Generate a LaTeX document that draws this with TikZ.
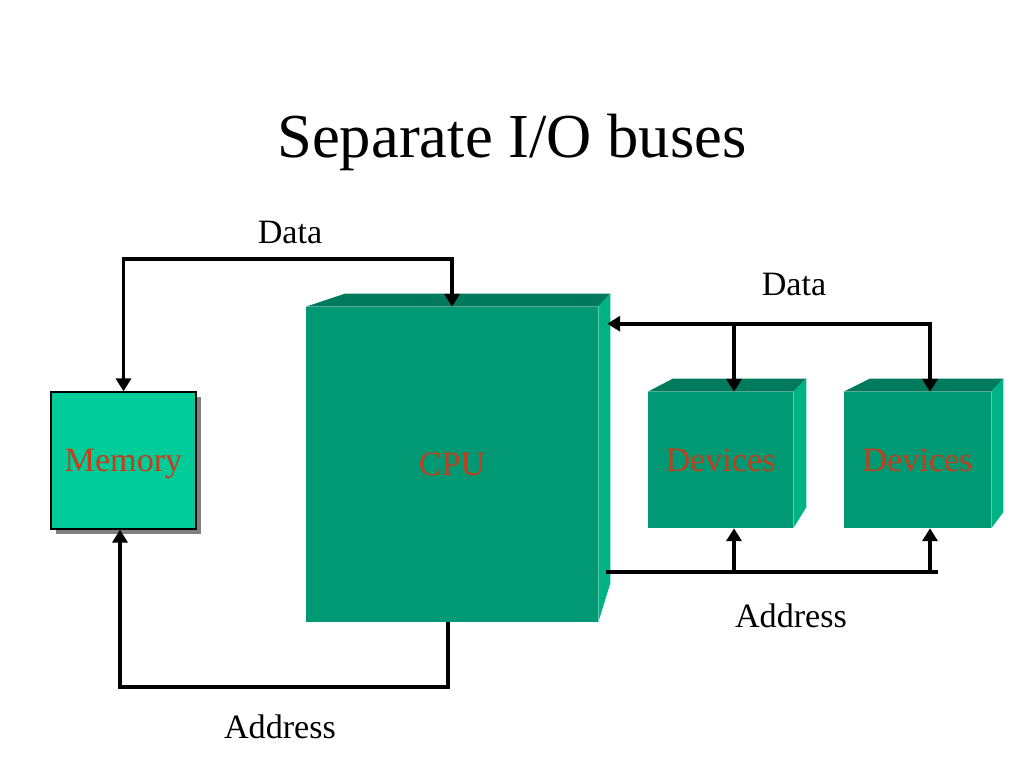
\documentclass[tikz,border=0pt]{standalone}
\usepackage{fontspec}
\setmainfont{Liberation Serif}
\usepackage{xcolor}
\usepackage{tikz}
\usetikzlibrary{arrows.meta,calc,shadows}

\definecolor{facegreen}{RGB}{0,153,115}
\definecolor{topgreen}{RGB}{0,122,92}
\definecolor{sidegreen}{RGB}{0,179,134}
\definecolor{memgreen}{RGB}{0,204,153}
\definecolor{labelred}{RGB}{196,62,26}
\definecolor{shadowgray}{RGB}{128,128,128}

\begin{document}
\begin{tikzpicture}[x=0.703125pt,y=-0.703125pt,
    bus/.style={line width=2.8pt},
    tip/.style={-{Triangle[length=9pt,width=10.5pt]}},
    twotip/.style={{Triangle[length=9pt,width=10.5pt]}-{Triangle[length=9pt,width=10.5pt]}},
    unit/.style={fill=facegreen, text=labelred, inner sep=0pt,
        text height=15.9pt, text depth=0pt,
        font=\fontsize{24}{28}\selectfont},
    lbl/.style={font=\fontsize{24}{28}\selectfont}]
    \useasboundingbox (0,0) rectangle (1024,768);

    \node[font=\fontsize{44}{52}\selectfont] (title) at (512,142) {Separate I/O buses};

    % Memory
    \node [unit, draw, fill=memgreen, line width=1pt,
        minimum width=145*0.703125pt,
        minimum height=137*0.703125pt,
        drop shadow={shadow xshift=3.5pt, shadow yshift=-3.5pt,
            fill=shadowgray, opacity=1},
    ] (mem) at (123.5,460.5) {Memory};

    % CPU
    \node [unit,
        minimum width=292*0.703125pt,
        minimum height=315*0.703125pt,
    ] (cpu) at (452,464.5) {CPU};
    \fill[topgreen] (cpu.north west) -- ++(39,-13)
        -- ($(cpu.north east)+(12,-13)$) -- (cpu.north east) -- cycle;
    \fill[sidegreen] (cpu.north east) -- ++(12,-13)
        -- ($(cpu.south east)+(12,-39)$) -- (cpu.south east) -- cycle;

    % devices
    \node [unit,
        minimum width=145*0.703125pt,
        minimum height=136*0.703125pt,
    ] (dev1) at (720.5,460) {Devices};
    \fill[topgreen] (dev1.north west) -- ++(25,-13)
        -- ($(dev1.north east)+(13,-13)$) -- (dev1.north east) -- cycle;
    \fill[sidegreen] (dev1.north east) -- ++(13,-13)
        -- ($(dev1.south east)+(13,-21)$) -- (dev1.south east) -- cycle;

    \node [unit,
        minimum width=147*0.703125pt,
        minimum height=136*0.703125pt,
    ] (dev2) at (917.5,460) {Devices};
    \fill[topgreen] (dev2.north west) -- ++(26,-13)
        -- ($(dev2.north east)+(12,-13)$) -- (dev2.north east) -- cycle;
    \fill[sidegreen] (dev2.north east) -- ++(12,-13)
        -- ($(dev2.south east)+(12,-16)$) -- (dev2.south east) -- cycle;

    % bus ends
    \coordinate (dl) at (0,259);
    \coordinate (cpuin) at ($(cpu.north east)+(9,17)$);
    \coordinate (d1top) at ($(dev1.north)+(13.5,0)$);
    \coordinate (d2top) at ($(dev2.north)+(12.5,0)$);
    \coordinate (d1bot) at ($(dev1.south)+(13.5,0)$);
    \coordinate (d2bot) at ($(dev2.south)+(12.5,0)$);
    \coordinate (abw) at (606,572);
    \coordinate (abe) at (938,572);

    % memory buses
    \draw[bus,twotip] (mem.north) -- (mem.north |- dl) -| (cpu.north);
    \draw[bus,tip] ([xshift=-4*0.703125pt]cpu.south) -- ++(0,65)
        -| ([xshift=-3.5*0.703125pt]mem.south);

    % device buses
    \draw[bus,twotip] (d2top) |- (cpuin);
    \draw[bus,tip] (d1top |- cpuin) -- (d1top);
    \draw[bus] (abw) -- (abe);
    \draw[bus,tip] (d1bot |- abw) -- (d1bot);
    \draw[bus,tip] (d2bot |- abw) -- (d2bot);

    \node[lbl] (data1) at (290,232) {Data};
    \node[lbl] (data2) at (794,284) {Data};
    \node[lbl] (addr1) at (280,727) {Address};
    \node[lbl] (addr2) at (791,616) {Address};
\end{tikzpicture}
\end{document}
